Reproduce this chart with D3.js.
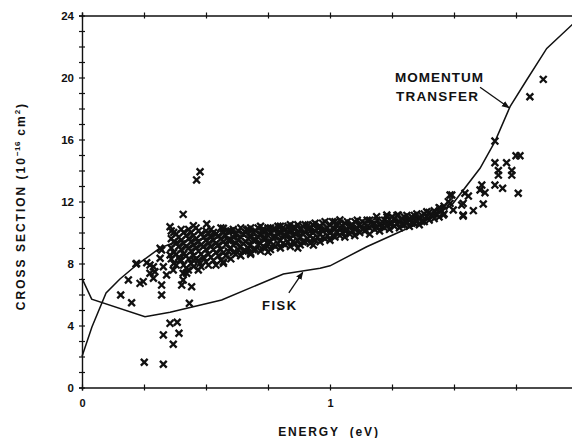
<!DOCTYPE html>
<html><head><meta charset="utf-8">
<script src="https://cdn.jsdelivr.net/npm/d3@7"></script>
<style>
body{margin:0;background:#fff}
svg{display:block}
text{font-family:"Liberation Sans",Arial,Helvetica,sans-serif;font-weight:bold;fill:#111}
</style>
</head><body>
<svg id="chart" width="572" height="438"></svg>
<script>
// ---------- data ----------
const xTickValues = [0,0.25,0.5,0.75,1,1.25,1.5,1.75,2];
const xTickLabels = {0:"0",1:"1"};
const yTickValues = d3.range(0,25,1);
const yTickLabels = [0,4,8,12,16,20,24];

const momentumTransfer = [
 [0,2.0],[0.04,3.9],[0.097,6.1],[0.153,7.0],[0.22,7.9],[0.315,9.0],[0.38,9.4],
 [0.5,9.6],[0.7,9.8],[1.0,10.1],[1.2,10.5],[1.4,11.0],[1.491,11.77],[1.605,14.14],
 [1.665,15.86],[1.726,18.12],[1.793,19.84],[1.874,21.88],[1.975,23.39],[2.0,23.7]
];
const fisk = [
 [0,7.04],[0.039,5.7],[0.254,4.57],[0.355,4.85],[0.563,5.65],[0.812,7.32],[0.96,7.69],
 [1.0,7.85],[1.148,9.08],[1.282,10.05],[1.39,10.8],[1.457,11.45],[1.491,11.77]
];

const bandPoints = [
 [0.36,8.3],[0.36,9.0],[0.36,9.6],[0.36,10.1],
 [0.38,7.9],[0.38,8.6],[0.38,9.3],[0.38,9.9],
 [0.40,8.2],[0.40,8.9],[0.40,9.5],[0.40,10.2],
 [0.42,7.7],[0.42,8.5],[0.42,9.1],[0.42,9.8],
 [0.44,8.0],[0.44,8.8],[0.44,9.4],[0.44,10.0],
 [0.46,8.3],[0.46,9.0],[0.46,9.6],[0.46,10.3],
 [0.48,7.8],[0.48,8.6],[0.48,9.2],[0.48,9.9],
 [0.50,8.1],[0.50,8.9],[0.50,9.5],[0.50,10.1],
 [0.52,8.4],[0.52,9.1],[0.52,9.7],[0.52,10.2],
 [0.54,7.9],[0.54,8.7],[0.54,9.3],[0.54,9.9],
 [0.56,8.2],[0.56,8.9],[0.56,9.6],[0.56,10.3],
 [0.58,8.5],[0.58,9.2],[0.58,9.8],
 [0.60,8.3],[0.60,9.0],[0.60,9.5],[0.60,10.1],
 [0.62,8.6],[0.62,9.3],[0.62,9.9],
 [0.64,8.5],[0.64,9.1],[0.64,9.7],[0.64,10.3],
 [0.66,8.8],[0.66,9.4],[0.66,10.0],
 [0.68,8.7],[0.68,9.2],[0.68,9.8],[0.68,10.3],
 [0.70,8.9],[0.70,9.5],[0.70,10.1],
 [0.72,8.8],[0.72,9.3],[0.72,9.9],[0.72,10.4],
 [0.74,9.0],[0.74,9.6],[0.74,10.1],
 [0.76,8.9],[0.76,9.4],[0.76,10.0],[0.76,10.3],
 [0.78,9.1],[0.78,9.7],[0.78,10.2],
 [0.80,9.0],[0.80,9.5],[0.80,10.0],[0.80,10.4],
 [0.82,9.2],[0.82,9.8],[0.82,10.2],
 [0.84,9.1],[0.84,9.6],[0.84,10.1],[0.84,10.5],
 [0.86,9.3],[0.86,9.9],[0.86,10.3],
 [0.88,9.2],[0.88,9.7],[0.88,10.2],
 [0.90,9.4],[0.90,10.0],[0.90,10.5],
 [0.92,9.3],[0.92,9.8],[0.92,10.3],
 [0.94,9.5],[0.94,10.1],[0.94,10.6],
 [0.96,9.4],[0.96,9.9],[0.96,10.4],
 [0.98,9.6],[0.98,10.2],[0.98,10.7],
 [1.00,9.5],[1.00,10.0],[1.00,10.5],
 [1.02,9.7],[1.02,10.2],[1.02,10.7],
 [1.04,9.8],[1.04,10.3],
 [1.06,9.7],[1.06,10.1],[1.06,10.6],
 [1.08,9.9],[1.08,10.4],
 [1.10,9.8],[1.10,10.2],[1.10,10.7],
 [1.12,10.0],[1.12,10.5],
 [1.14,10.1],[1.14,10.6],
 [1.16,9.9],[1.16,10.3],[1.16,10.8],
 [1.18,10.2],[1.18,10.6],
 [1.20,10.1],[1.20,10.5],
 [1.22,10.3],[1.22,10.8],
 [1.24,10.2],[1.24,10.6],
 [1.26,10.4],[1.26,10.9],
 [1.28,10.3],[1.28,10.7],
 [1.30,10.5],[1.30,11.0],
 [1.32,10.4],[1.32,10.8],
 [1.34,10.6],[1.34,11.1],
 [1.36,10.5],[1.36,10.9],
 [1.38,10.7],[1.38,11.2],
 [1.40,10.8],[1.40,11.3],
 [1.42,10.9],[1.42,11.4],
 [1.44,11.0],[1.44,11.6],
 [1.46,11.2],[1.46,11.7]
];

const bandPoints2 = [
 [0.37,8.0],[0.37,8.7],[0.37,9.4],[0.37,10.0],
 [0.39,8.4],[0.39,9.1],[0.39,9.7],
 [0.41,7.9],[0.41,8.6],[0.41,9.3],[0.41,10.0],
 [0.43,8.3],[0.43,9.0],[0.43,9.6],[0.43,10.2],
 [0.45,7.8],[0.45,8.5],[0.45,9.2],[0.45,9.8],
 [0.47,8.2],[0.47,8.8],[0.47,9.4],[0.47,10.1],
 [0.49,8.4],[0.49,9.1],[0.49,9.7],
 [0.51,7.9],[0.51,8.6],[0.51,9.3],[0.51,9.9],
 [0.53,8.2],[0.53,8.9],[0.53,9.5],[0.53,10.0],
 [0.55,8.5],[0.55,9.2],[0.55,9.8],
 [0.57,8.1],[0.57,8.7],[0.57,9.4],[0.57,10.0],
 [0.59,8.8],[0.59,9.5],[0.59,10.1],
 [0.61,8.7],[0.61,9.2],[0.61,9.7],[0.61,10.2],
 [0.63,8.9],[0.63,9.5],[0.63,10.1],
 [0.65,8.8],[0.65,9.3],[0.65,9.9],
 [0.67,9.0],[0.67,9.6],[0.67,10.2],
 [0.69,8.9],[0.69,9.5],[0.69,10.0],
 [0.71,9.2],[0.71,9.7],[0.71,10.3],
 [0.73,9.1],[0.73,9.6],[0.73,10.1],
 [0.75,9.3],[0.75,9.8],[0.75,10.3],
 [0.77,9.2],[0.77,9.7],[0.77,10.2],
 [0.79,9.3],[0.79,9.9],[0.79,10.4],
 [0.81,9.3],[0.81,9.8],[0.81,10.3],
 [0.83,9.4],[0.83,9.9],[0.83,10.4],
 [0.85,9.4],[0.85,9.8],[0.85,10.3],
 [0.87,9.5],[0.87,10.0],[0.87,10.5],
 [0.89,9.4],[0.89,9.9],[0.89,10.4],
 [0.91,9.6],[0.91,10.2],
 [0.93,9.6],[0.93,10.0],[0.93,10.5],
 [0.95,9.7],[0.95,10.3],
 [0.97,9.7],[0.97,10.1],[0.97,10.6],
 [0.99,9.8],[0.99,10.3],
 [1.01,9.8],[1.01,10.3],[1.01,10.7],
 [1.03,10.0],[1.03,10.5],
 [1.05,10.0],[1.05,10.4],
 [1.07,10.2],[1.07,10.7],
 [1.09,10.1],[1.09,10.5],
 [1.11,10.3],[1.11,10.8],
 [1.13,10.2],[1.13,10.7],
 [1.15,10.4],[1.15,10.8],
 [1.17,10.5],
 [1.19,10.3],[1.19,10.8],
 [1.21,10.4],[1.21,10.7],
 [1.23,10.5],[1.23,11.0],
 [1.25,10.6],[1.25,11.0],
 [1.27,10.6],[1.27,11.1],
 [1.29,10.5],[1.29,10.9],
 [1.31,10.7],[1.31,11.1],
 [1.33,10.6],[1.33,11.0],
 [1.35,10.8],[1.35,11.2],
 [1.37,10.7],[1.37,11.1],
 [1.39,11.0],[1.41,11.1],[1.43,11.2],[1.45,11.4]
];

const scatterPoints = [
 [0.57,10.27],[0.664,10.16],[0.731,10.23],[0.839,10.27],[0.912,10.48],
 [1.229,11.13],[1.275,11.13],[1.188,11.02],[1.04,10.81],[0.933,9.19],
 [0.68,8.6],[0.75,8.75],[0.87,9.0],
 [1.484,12.42],[1.531,11.77],[1.537,11.13],[1.484,11.88],[1.444,11.56],[1.39,11.34],
 [1.665,15.9],[1.665,14.5],[1.712,14.5],[1.75,14.95],[1.766,14.95],
 [1.679,14.0],[1.679,13.7],[1.733,14.0],[1.733,13.7],
 [1.665,13.06],[1.696,12.85],[1.759,12.53],[1.612,13.06],[1.605,12.74],[1.625,12.57],
 [1.544,12.53],[1.558,12.35],[1.618,11.84],[1.578,11.41],[1.537,11.06],
 [1.491,12.42],[1.477,11.99],[1.497,11.45],[1.457,11.13],[1.537,11.88],
 [1.806,18.76],[1.86,19.88],
 [0.476,13.92],[0.462,13.39],[0.408,11.17],[0.355,10.37],[0.449,10.44],[0.503,10.55],
 [0.315,8.98],[0.321,8.87],[0.218,7.97],[0.261,8.05],[0.288,7.79],
 [0.187,6.94],[0.234,6.72],[0.247,6.83],[0.156,5.97],[0.2,5.47],[0.321,5.97],
 [0.433,5.43],[0.402,6.61],[0.442,6.5],[0.408,6.94],[0.321,6.61],[0.288,7.05],
 [0.341,7.26],[0.368,7.58],[0.408,7.37],[0.429,7.58],[0.469,7.58],[0.476,8.01],
 [0.57,8.01],[0.315,8.34],[0.355,8.55],[0.395,8.23],[0.449,8.23],[0.274,7.37],
 [0.328,7.79],[0.22,8.01],[0.274,7.9],[0.294,7.47],[0.422,7.37],
 [0.251,1.63],[0.328,1.5],[0.328,3.39],[0.368,2.79],[0.355,4.14],[0.384,4.21],[0.391,3.5]
];

// ---------- layout ----------
const svg = d3.select("#chart");
const x = d3.scaleLinear().domain([0,2]).range([82,578]);
const y = d3.scaleLinear().domain([0,24]).range([387.5,15.5]);
const ink = "#111";

function crossTicks(g){
  g.select(".domain").attr("stroke",ink).attr("stroke-width",1.4);
  g.selectAll(".tick line").attr("stroke",ink).attr("stroke-width",1.2);
}
const gB = svg.append("g").attr("transform",`translate(0,${y(0)})`)
  .call(d3.axisBottom(x).tickValues(xTickValues).tickSizeOuter(0).tickSize(3)
    .tickFormat(d=>xTickLabels[d]||"").tickPadding(9));
gB.selectAll(".tick line").attr("y1",-3).attr("y2",3);
gB.selectAll(".tick text").attr("font-size",11).attr("font-weight","bold")
  .attr("font-family","Liberation Sans, Arial, sans-serif").attr("fill",ink);
crossTicks(gB);

const gT = svg.append("g").attr("transform",`translate(0,${y(24)})`)
  .call(d3.axisTop(x).tickValues(xTickValues).tickSizeOuter(0).tickSize(3).tickFormat(""));
gT.selectAll(".tick line").attr("y1",-3).attr("y2",3);
crossTicks(gT);

const gL = svg.append("g").attr("transform",`translate(${x(0)},0)`)
  .call(d3.axisLeft(y).tickValues(yTickValues).tickSizeOuter(0).tickSize(3)
    .tickFormat(d=>yTickLabels.includes(d)?String(d):""));
gL.selectAll(".tick line").attr("x1",-3).attr("x2",3);
gL.selectAll(".tick text").attr("x",-8).attr("font-size",11.5).attr("font-weight","bold")
  .attr("font-family","Liberation Sans, Arial, sans-serif").attr("fill",ink);
crossTicks(gL);

// curves
const line = d3.line().x(d=>x(d[0])).y(d=>y(d[1]));
svg.append("path").datum(momentumTransfer).attr("d",line)
  .attr("fill","none").attr("stroke",ink).attr("stroke-width",1.5);
svg.append("path").datum(fisk).attr("d",line)
  .attr("fill","none").attr("stroke",ink).attr("stroke-width",1.5);

// scatter
const xs = "M-3.4,-3.4L3.4,3.4M-3.4,3.4L3.4,-3.4";
svg.append("g").selectAll("path").data(bandPoints.concat(bandPoints2, scatterPoints)).join("path")
  .attr("d",xs).attr("transform",d=>`translate(${x(d[0])},${y(d[1])})`)
  .attr("stroke",ink).attr("stroke-width",2.3).attr("fill","none");

// annotations
const defs = svg.append("defs");
defs.append("marker").attr("id","ah").attr("viewBox","0 0 10 10").attr("refX",9).attr("refY",5)
  .attr("markerWidth",6).attr("markerHeight",6).attr("orient","auto")
  .append("path").attr("d","M0,1L10,5L0,9Z").attr("fill",ink);

svg.append("text").attr("x",395).attr("y",82).attr("font-size",13.5).attr("letter-spacing",1)
  .text("MOMENTUM");
svg.append("text").attr("x",396).attr("y",101).attr("font-size",13.5).attr("letter-spacing",1.2)
  .text("TRANSFER");
svg.append("line").attr("x1",x(1.605)).attr("y1",y(19.37)).attr("x2",x(1.722)).attr("y2",y(18.05))
  .attr("stroke",ink).attr("stroke-width",1.3).attr("marker-end","url(#ah)");

svg.append("text").attr("x",262).attr("y",310).attr("font-size",13).attr("letter-spacing",1.5)
  .text("FISK");
svg.append("line").attr("x1",x(0.834)).attr("y1",y(6.1)).attr("x2",x(0.89)).attr("y2",y(7.42))
  .attr("stroke",ink).attr("stroke-width",1.3).attr("marker-end","url(#ah)");

// axis titles
svg.append("text").attr("x",329).attr("y",436).attr("text-anchor","middle")
  .attr("font-size",12).attr("letter-spacing",1.8).attr("xml:space","preserve")
  .text("ENERGY  (eV)");

const yt = svg.append("text").attr("transform","translate(25,206) rotate(-90)")
  .attr("text-anchor","middle").attr("font-size",12).attr("letter-spacing",2);
yt.append("tspan").text("CROSS SECTION (10");
yt.append("tspan").attr("font-size",8).attr("dy",-5).attr("letter-spacing",0.5).text("−16");
yt.append("tspan").attr("dy",5).text(" cm");
yt.append("tspan").attr("font-size",8).attr("dy",-5).text("2");
yt.append("tspan").attr("dy",5).text(")");
</script>
</body></html>
